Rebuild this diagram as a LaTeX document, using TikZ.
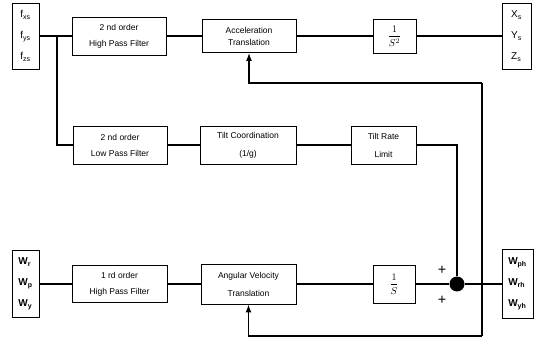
\documentclass[tikz,border=0pt]{standalone}
\usepackage{fontspec}
\setmainfont{Liberation Sans}
\usetikzlibrary{arrows.meta}
\begin{document}
\begin{tikzpicture}[x=1pt,y=-1pt,
  blk/.style={draw,line width=0.9pt,rectangle,inner sep=0pt,align=center,font=\fontsize{8.5}{16}\selectfont},
  io/.style={draw,line width=0.9pt,rectangle,inner sep=0pt,align=left,font=\fontsize{10}{21}\selectfont},
  conn/.style={line width=1.2pt},
  arr/.style={line width=1.2pt,-{Latex[length=8pt,width=6pt]}}]
\useasboundingbox (0,0) rectangle (539,339);
% top row
\node[io,minimum width=27pt,minimum height=66pt] (inb) at (25.5,36) {f\textsubscript{xs}\\f\textsubscript{ys}\\f\textsubscript{zs}};
\node[blk,minimum width=94pt,minimum height=38pt] (hpf) at (119,36) {2 nd order\\High Pass Filter};
\node[blk,minimum width=94pt,minimum height=33pt,font=\fontsize{8.5}{12}\selectfont] (acc) at (249,36) {Acceleration\\Translation};
\node[blk,minimum width=43pt,minimum height=34pt,font=\normalsize] (s2) at (394.5,36) {$\displaystyle\frac{1}{S^{2}}$};
\node[io,minimum width=29pt,minimum height=66pt] (outb) at (516.5,36) {X\textsubscript{s}\\Y\textsubscript{s}\\Z\textsubscript{s}};
% middle row
\node[blk,minimum width=94pt,minimum height=38pt] (lpf) at (120,145) {2 nd order\\Low Pass Filter};
\node[blk,minimum width=96pt,minimum height=38pt,font=\fontsize{8.5}{18}\selectfont] (tc) at (248,145) {Tilt Coordination\\(1/g)};
\node[blk,minimum width=65pt,minimum height=38pt,font=\fontsize{8.5}{18}\selectfont] (trl) at (383.5,145) {Tilt Rate\\Limit};
% bottom row
\node[io,minimum width=27pt,minimum height=67pt,font=\bfseries\fontsize{10}{21}\selectfont] (win) at (25.5,284) {W\textsubscript{r}\\W\textsubscript{p}\\W\textsubscript{y}};
\node[blk,minimum width=95pt,minimum height=37pt] (hpf1) at (119.5,284) {1 rd order\\High Pass Filter};
\node[blk,minimum width=95pt,minimum height=40pt,font=\fontsize{8.5}{18}\selectfont] (av) at (248.5,284) {Angular Velocity\\Translation};
\node[blk,minimum width=42pt,minimum height=38pt,font=\normalsize] (s1) at (394,284) {$\displaystyle\frac{1}{S}$};
\node[circle,fill=black,minimum size=15pt,inner sep=0pt] (sum) at (457,284) {};
\node[io,minimum width=31pt,minimum height=69pt,font=\bfseries\fontsize{10}{21}\selectfont] (wout) at (517.5,284) {W\textsubscript{ph}\\W\textsubscript{rh}\\W\textsubscript{yh}};
\node[font=\Large] (p1) at (442,270) {+};
\node[font=\Large] (p2) at (442,300) {+};
% connectors
\coordinate (br) at (57,36);
\coordinate (j) at (482,284);
\coordinate (fb1) at (482,83);
\coordinate (fb2) at (482,336);
\draw[conn] (inb.east) -- (hpf.west);
\draw[conn] (br) |- (lpf.west);
\draw[conn] (hpf.east) -- (acc.west);
\draw[conn] (acc.east) -- (s2.west);
\draw[conn] (s2.east) -- (outb.west);
\draw[conn] (lpf.east) -- (tc.west);
\draw[conn] (tc.east) -- (trl.west);
\draw[conn] (trl.east) -| (sum.north);
\draw[conn] (win.east) -- (hpf1.west);
\draw[conn] (hpf1.east) -- (av.west);
\draw[conn] (av.east) -- (s1.west);
\draw[conn] (s1.east) -- (sum.west);
\draw[conn] (sum.east) -- (wout.west);
\draw[conn] (fb1) -- (fb2);
\draw[arr] (fb1) -| (acc.south);
\draw[arr] (fb2) -| (av.south);
\end{tikzpicture}
\end{document}
